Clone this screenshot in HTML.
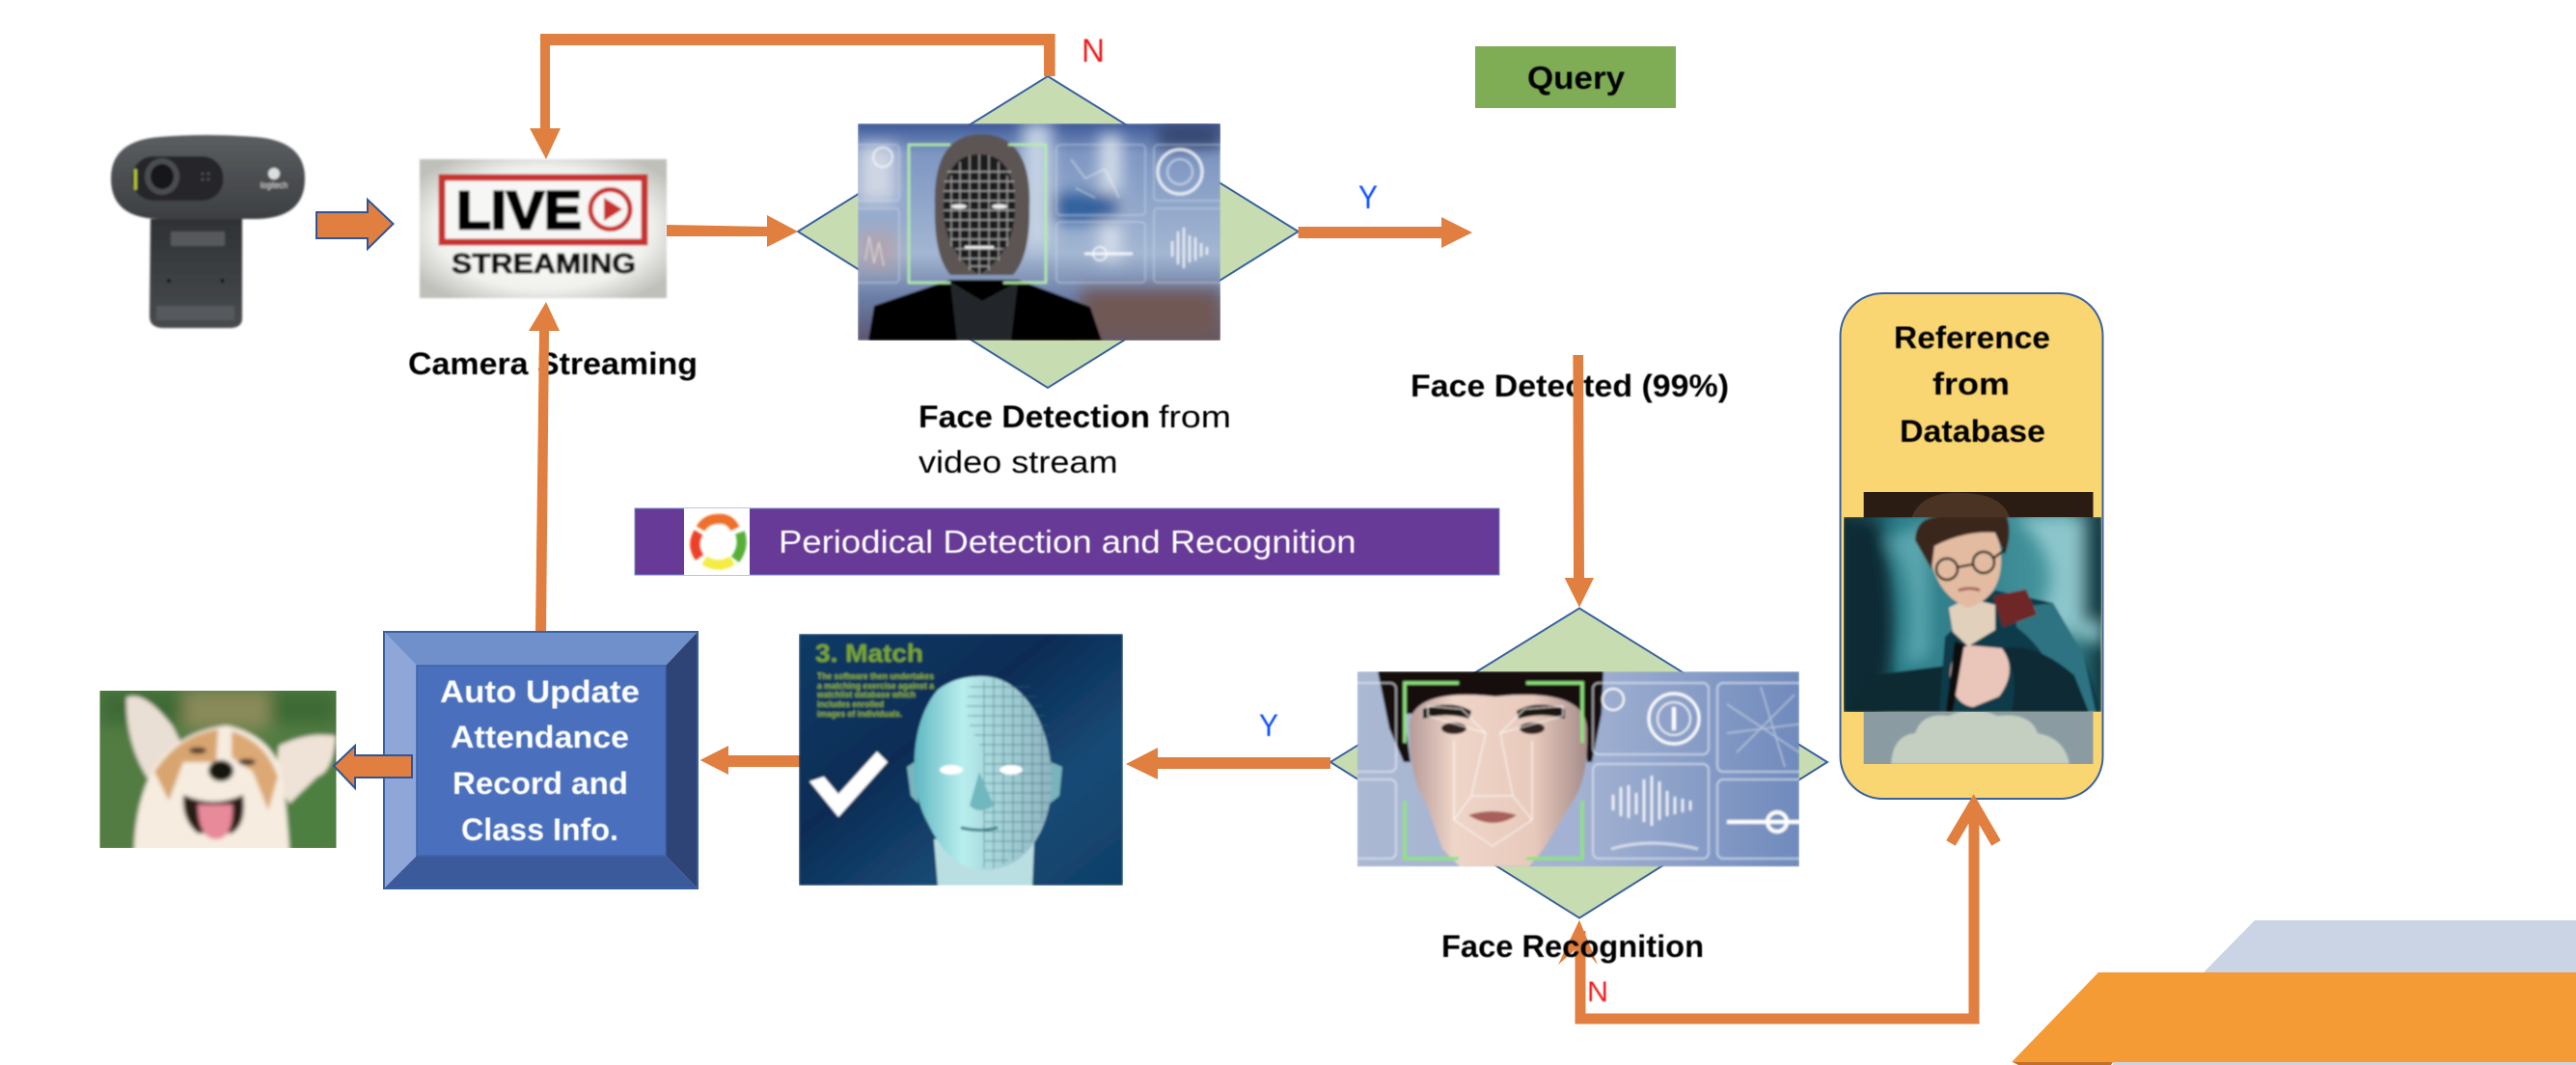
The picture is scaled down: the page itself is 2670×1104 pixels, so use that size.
<!DOCTYPE html>
<html><head><meta charset="utf-8"><title>Face recognition attendance flow</title>
<style>html,body{margin:0;padding:0;background:#fff;width:2670px;height:1104px;overflow:hidden}svg{display:block}
text{font-family:"Liberation Sans",sans-serif}</style></head><body>
<svg xmlns="http://www.w3.org/2000/svg" width="2670" height="1104" viewBox="0 0 2670 1104">
<defs>
<filter id="b1" x="-20%" y="-20%" width="140%" height="140%"><feGaussianBlur stdDeviation="1"/></filter>
<filter id="b2" x="-20%" y="-20%" width="140%" height="140%"><feGaussianBlur stdDeviation="2.2"/></filter>
<filter id="b3" x="-20%" y="-20%" width="140%" height="140%"><feGaussianBlur stdDeviation="3"/></filter>
<filter id="b8" x="-30%" y="-30%" width="160%" height="160%"><feGaussianBlur stdDeviation="8"/></filter>
<filter id="t" x="-5%" y="-20%" width="110%" height="140%"><feGaussianBlur stdDeviation="0.55"/></filter>
<radialGradient id="liveBg" cx="50%" cy="50%" r="62%"><stop offset="0" stop-color="#fff"/><stop offset=".7" stop-color="#f1f1ee"/><stop offset="1" stop-color="#bfc0ba"/></radialGradient>
<linearGradient id="camB" x1="0" y1="0" x2="0" y2="1"><stop offset="0" stop-color="#5b5e61"/><stop offset=".5" stop-color="#4b4e51"/><stop offset="1" stop-color="#3c3f42"/></linearGradient>
<linearGradient id="camS" x1="0" y1="0" x2="0" y2="1"><stop offset="0" stop-color="#2f3235"/><stop offset="1" stop-color="#484b4e"/></linearGradient>
<linearGradient id="p1" x1="0" y1="0" x2="0" y2="1"><stop offset="0" stop-color="#3f5a98"/><stop offset=".14" stop-color="#7e97c2"/><stop offset=".6" stop-color="#a3b6d2"/><stop offset=".8" stop-color="#6c7ea6"/><stop offset="1" stop-color="#5b5670"/></linearGradient>
<linearGradient id="p2" x1="0" y1="0" x2="1" y2="0"><stop offset="0" stop-color="#aab8d2"/><stop offset=".5" stop-color="#a3b2d2"/><stop offset="1" stop-color="#6f8abc"/></linearGradient>
<linearGradient id="skin" x1="0" y1="0" x2="1" y2="0"><stop offset="0" stop-color="#b59a98"/><stop offset=".25" stop-color="#eed5c8"/><stop offset=".7" stop-color="#e8cabc"/><stop offset="1" stop-color="#a58c8a"/></linearGradient>
<linearGradient id="m1" x1="0" y1="0" x2="1" y2="1"><stop offset="0" stop-color="#0f3b66"/><stop offset=".4" stop-color="#0b2c55"/><stop offset=".7" stop-color="#174a75"/><stop offset="1" stop-color="#0f3f68"/></linearGradient>
<linearGradient id="mh" x1="0" y1="0" x2="1" y2="0"><stop offset="0" stop-color="#5fb8c2"/><stop offset=".35" stop-color="#b8eeee"/><stop offset=".55" stop-color="#a8d8dc"/><stop offset="1" stop-color="#8fb4c0"/></linearGradient>
<linearGradient id="h1" x1="0" y1="0" x2="1" y2="0"><stop offset="0" stop-color="#0c3038"/><stop offset=".22" stop-color="#2a7d88"/><stop offset=".55" stop-color="#35838f"/><stop offset=".85" stop-color="#4b9ba2"/><stop offset="1" stop-color="#0e3a42"/></linearGradient>
<clipPath id="cp1"><rect x="889" y="128" width="376" height="225"/></clipPath>
<clipPath id="cp2"><rect x="1406.6" y="696" width="458.4" height="202.5"/></clipPath>
<clipPath id="cp3"><rect x="828" y="657" width="336" height="261"/></clipPath>
<clipPath id="cp4"><rect x="103.5" y="716" width="245" height="163"/></clipPath>
<clipPath id="cp5"><rect x="1911" y="536" width="267" height="202"/></clipPath>
<clipPath id="cp6"><rect x="1931.6" y="510" width="238" height="282"/></clipPath>
</defs>
<rect width="2670" height="1104" fill="#fff"/>

<!-- bottom-right decoration -->
<polygon points="2337,954 2670,954 2670,1104 2190,1104 2190,1101 2284,1008" fill="#cbd4e4"/>
<polygon points="2175,1008 2670,1008 2670,1101 2085,1101" fill="#f59b35"/>
<polygon points="2086,1101 2190,1101 2188,1104 2092,1104" fill="#c0702a"/>

<!-- diamonds -->
<polygon points="1086,79 1345.6,240 1086,402 827,240" fill="#c8dcb2" stroke="#3a62a0" stroke-width="2"/>
<polygon points="1637,630.5 1894,790 1637,951.6 1379,790" fill="#c8dcb2" stroke="#3a62a0" stroke-width="2"/>

<!-- webcam -->
<g filter="url(#b1)">
<path d="M156 227H251V330Q251 340 238 340H170Q155 340 155 328Z" fill="url(#camS)"/>
<rect x="177" y="240" width="56" height="15" rx="2" fill="#56595c"/>
<rect x="162" y="317" width="81" height="15" fill="#55585b"/>
<circle cx="175" cy="291" r="2" fill="#111"/><circle cx="230.5" cy="291" r="2" fill="#111"/>
<path d="M115 185Q115 146 165 142Q215 138 265 142Q316 146 316 185Q316 226 266 227H165Q115 226 115 185Z" fill="url(#camB)"/>
<rect x="137" y="162" width="94.5" height="46" rx="22" fill="#26282a"/>
<ellipse cx="168" cy="183" rx="18" ry="19" fill="#4a4d50"/><ellipse cx="168" cy="183" rx="12" ry="13" fill="#15171a"/>
<rect x="139" y="175" width="3" height="22" rx="1.5" fill="#b7c63e"/>
<circle cx="284" cy="180" r="6" fill="#ddd"/>
<text x="270" y="195" font-size="9" fill="#ddd" textLength="28" lengthAdjust="spacingAndGlyphs">logitech</text>
<g fill="#55585b"><circle cx="210" cy="180" r="1.3"/><circle cx="216" cy="180" r="1.3"/><circle cx="210" cy="186" r="1.3"/><circle cx="216" cy="186" r="1.3"/></g>
</g>

<!-- blue-outline arrow -->
<polygon points="328,220 381,220 381,207 407.5,232 381,258 381,247 328,247" fill="#e07f3f" stroke="#2f5597" stroke-width="2"/>

<!-- live image -->
<g filter="url(#b1)">
<rect x="435" y="165" width="256" height="144" fill="url(#liveBg)"/>
<rect x="458" y="184" width="210" height="67" fill="#f6f6f4" stroke="#c8302e" stroke-width="7"/>
<text x="473" y="237" font-size="56" font-weight="700" fill="#000" stroke="#000" stroke-width="2.5" textLength="130" lengthAdjust="spacingAndGlyphs">LIVE</text>
<circle cx="632.5" cy="217" r="20.5" fill="#f6f6f4" stroke="#c8302e" stroke-width="5"/>
<polygon points="626,205 645,217 626,229" fill="#c8302e"/>
<text x="468" y="283" font-size="29" font-weight="700" fill="#111" stroke="#111" stroke-width="1" textLength="191" lengthAdjust="spacingAndGlyphs">STREAMING</text>
</g>

<!-- query -->
<rect x="1529" y="48" width="208" height="64" fill="#7fad55"/>
<text x="1583" y="92" font-size="33" font-weight="700" fill="#000" textLength="101" lengthAdjust="spacingAndGlyphs" filter="url(#t)">Query</text>

<!-- photo 1: face detection -->
<g clip-path="url(#cp1)"><g filter="url(#b1)">
<rect x="889" y="128" width="376" height="225" fill="url(#p1)"/>
<g filter="url(#b8)">
<rect x="1060" y="128" width="30" height="130" fill="#c5d2e4"/>
<rect x="1140" y="140" width="22" height="130" fill="#d5deea"/>
<rect x="1090" y="200" width="70" height="30" fill="#2f5f9c"/>
<rect x="889" y="150" width="40" height="60" fill="#cfd6e4"/>
<rect x="889" y="240" width="40" height="40" fill="#b99" opacity=".6"/>
<rect x="1120" y="300" width="145" height="53" fill="#6f5855"/>
<rect x="1200" y="128" width="65" height="25" fill="#34466f"/>
</g>
<g fill="none" stroke="#dde6f2" stroke-width="1.2" opacity=".5">
<rect x="1095" y="150" width="92" height="73" rx="4"/><rect x="1196" y="150" width="75" height="58" rx="4"/>
<rect x="1095" y="230" width="92" height="63" rx="4"/><rect x="1196" y="216" width="75" height="77" rx="4"/>
<rect x="880" y="150" width="52" height="58" rx="4"/><rect x="880" y="216" width="52" height="77" rx="4"/>
</g>
<g fill="none" stroke="#fff">
<circle cx="1223" cy="178" r="23" stroke-width="3" opacity=".8"/><circle cx="1223" cy="178" r="13" stroke-width="2" opacity=".5"/>
<circle cx="915" cy="163" r="10" stroke-width="2" opacity=".7"/>
<circle cx="1140" cy="263" r="7" stroke-width="2" opacity=".7"/>
<path d="M1124 263H1174" stroke-width="3" opacity=".8"/>
<path d="M1215 250v16M1221 240v34M1227 236v42M1233 244v28M1239 246v24M1245 252v14M1251 256v8" stroke-width="2" opacity=".85"/>
<path d="M1110 165l15 20l20-10l15 30M1115 195l20 10" stroke-width="2" opacity=".35"/>
<path d="M897 270l4-25l5 28l5-22l5 25" stroke-width="1.5" opacity=".45"/>
</g>
<polygon points="900,353 906,317 985,290 1055,290 1130,318 1142,353" fill="#050505"/>
<polygon points="985,292 1018,312 1055,292 1048,353 992,353" fill="#24272b"/>
<path d="M969 215Q966 139 1018 139Q1070 141 1067 215Q1068 265 1050 285H985Q968 265 969 215Z" fill="#5b5552"/>
<path d="M978 215Q978 160 1015 160Q1052 160 1052 215Q1052 260 1015 285Q978 260 978 215Z" fill="#1a1a1f"/>
<g fill="none" stroke="#f2f2f2" stroke-width=".9" opacity=".72">
<path d="M1015 160V285M1005 161V280M995 168V270M986 182V255M1025 161V280M1035 168V270M1044 182V255"/>
<path d="M982 178H1048M979 188H1051M978 198H1052M978 208H1052M978 218H1052M979 228H1051M982 238H1048M985 248H1045M990 258H1040M997 268H1033M1005 276H1025"/>
</g>
<g fill="#eee"><ellipse cx="994" cy="214" rx="8" ry="2.4"/><ellipse cx="1036" cy="214" rx="8" ry="2.4"/><rect x="1000" y="255" width="30" height="2.5"/></g>
<path d="M985 150H942V293H985M1045 150H1084V293H1040" fill="none" stroke="#b5eea8" stroke-width="2.5"/>
</g></g>

<!-- photo 2: face recognition -->
<g clip-path="url(#cp2)"><g filter="url(#b1)">
<rect x="1406.6" y="696" width="458.4" height="202.5" fill="url(#p2)"/>
<path d="M1428 696H1662L1660 740L1650 790H1645L1640 740H1455L1462 790H1455L1440 755Z" fill="#15110f"/>
<path d="M1461 760Q1455 712 1550 722Q1648 712 1645 760Q1646 810 1629 832L1600 880L1585 898H1513L1495 880L1478 832Q1462 810 1461 760Z" fill="url(#skin)"/>
<path d="M1475 735q30-10 50 2l-2 8q-25-7-48 0zM1622 735q-30-10-50 2l2 8q25-7 48 0z" fill="#1e1510"/>
<ellipse cx="1507" cy="755" rx="13" ry="6" fill="#30241f"/><ellipse cx="1588" cy="755" rx="13" ry="6" fill="#30241f"/>
<path d="M1522 845q24-8 50 0q-24 16-50 0z" fill="#a8605a"/>
<g fill="none" stroke="#fff" stroke-width="1" opacity=".85">
<path d="M1480 732L1515 735L1540 760L1480 742ZM1620 732L1580 735L1555 760L1620 742ZM1507 768L1507 850M1588 768L1588 850M1540 760L1525 825L1507 850L1547 877L1588 850L1568 825L1555 760M1525 825H1568"/>
</g>
<path d="M1512 708H1456V770M1582 708H1640V770M1456 830V890H1512M1640 830V890H1582" fill="none" stroke="#8fe27f" stroke-width="3.5"/>
<g fill="none" stroke="#eef3fb" stroke-width="1.5" opacity=".75">
<rect x="1651" y="708" width="120" height="74" rx="6"/><rect x="1780" y="708" width="95" height="92" rx="6"/>
<rect x="1651" y="792" width="120" height="98" rx="6"/><rect x="1780" y="808" width="95" height="82" rx="6"/>
<rect x="1395" y="708" width="52" height="92" rx="6"/><rect x="1395" y="808" width="52" height="82" rx="6"/>
</g>
<g fill="none" stroke="#fff">
<circle cx="1735" cy="745" r="26" stroke-width="3"/><circle cx="1735" cy="745" r="17" stroke-width="1.5"/><path d="M1735 733v24" stroke-width="4"/>
<circle cx="1672" cy="725" r="11" stroke-width="2"/>
<path d="M1672 840v-16M1680 846v-30M1688 848v-34M1696 844v-22M1704 852v-44M1712 856v-52M1720 850v-40M1728 846v-26M1736 844v-18M1744 842v-14M1752 840v-10" stroke-width="2.5" opacity=".9"/>
<path d="M1670 880Q1710 868 1760 880" stroke-width="3" opacity=".6"/>
<path d="M1790 852H1865" stroke-width="4"/><circle cx="1842" cy="852" r="10" stroke-width="4"/>
<path d="M1790 730L1865 780M1800 780L1860 720M1790 760L1870 750M1825 712L1850 795" stroke-width="1.5" opacity=".45"/>
</g>
</g></g>

<!-- rounded database box -->
<rect x="1907.5" y="304" width="272" height="524" rx="44" fill="#f9d671" stroke="#3a62a0" stroke-width="2"/>
<g clip-path="url(#cp6)">
<rect x="1931.6" y="510" width="238" height="30" fill="#2a1b13"/>
<rect x="1931.6" y="738" width="238" height="54" fill="#8a9ca2"/>
<path d="M1960 792Q1962 762 1985 760Q1992 738 2020 742Q2045 730 2070 742Q2105 738 2112 760Q2140 765 2145 792Z" fill="#c4cfc2" filter="url(#b1)"/>
<path d="M1980 540Q1990 508 2035 511Q2078 512 2084 540Z" fill="#4a3322"/>
</g>
<g clip-path="url(#cp5)"><g filter="url(#b1)">
<rect x="1911" y="536" width="267" height="202" fill="url(#h1)"/>
<g filter="url(#b8)">
<path d="M1945 540Q1975 640 1950 738H1911V536Z" fill="#0a2c34"/>
<path d="M2090 536Q2150 590 2110 640L2178 670V536Z" fill="#8cc6cc"/>
<rect x="2158" y="536" width="20" height="110" fill="#123f48"/>
<path d="M1955 560Q1990 600 1975 690L2000 680L2000 540Z" fill="#5aa5ad"/>
</g>
<path d="M1911 738L1940 700L2018 690L2021 738Z" fill="#0a2b32"/>
<path d="M2010 738L2016 660L2068 612L2128 625L2160 680L2178 738Z" fill="#0f3a48"/>
<path d="M2090 630L2128 625L2160 680L2172 738L2140 738Q2130 680 2090 650Z" fill="#2f7382"/>
<path d="M2024 655L2020 630L2040 620L2068 627L2068 653L2040 670Z" fill="#e0d0bc"/>
<path d="M2066 618L2100 611L2111 637L2076 650Z" fill="#6e2628"/>
<path d="M2002 585Q1998 540 2040 536Q2076 540 2074 585Q2072 620 2040 630Q2012 620 2002 585Z" fill="#e2bba0"/>
<path d="M1985 560Q1986 536 2010 536H2080Q2086 552 2078 575L2068 552Q2035 550 2005 566L2002 590Z" fill="#3a271a"/>
<g fill="none" stroke="#111" stroke-width="2.4"><ellipse cx="2018" cy="590" rx="11" ry="11"/><ellipse cx="2056" cy="583" rx="11" ry="11"/><path d="M2029 588L2045 585M2067 578L2078 570"/></g>
<path d="M2030 612q12-4 22 0" stroke="#a5625a" stroke-width="3" fill="none"/>
<path d="M2021 700Q2022 672 2042 669L2075 672Q2092 695 2072 722L2045 733Q2024 730 2021 700Z" fill="#eac5ba"/>
<path d="M2026 665L2017 738L2024 738L2036 668Z" fill="#0c0c0c"/>
<path d="M2075 672Q2110 665 2150 700L2165 738H2085Q2094 695 2075 672Z" fill="#0a2a36"/>
</g></g>

<!-- purple bar -->
<rect x="658" y="527" width="896" height="69" fill="#673a97" stroke="#6f8ec4" stroke-width="1"/>
<rect x="709" y="527" width="68" height="69" fill="#fff"/>
<g fill="none" stroke-width="10" filter="url(#b1)">
<path d="M726 548Q733 536 750 538Q758 540 762 548" stroke="#ee6f2c"/>
<path d="M767 552Q772 567 762 580" stroke="#57b037"/>
<path d="M759 581Q745 590 730 581" stroke="#f4ec42"/>
<path d="M725 578Q716 565 724 552" stroke="#ee4026"/>
</g>
<text x="807" y="573" font-size="33" fill="#fff" textLength="598.6" lengthAdjust="spacingAndGlyphs" filter="url(#t)">Periodical Detection and Recognition</text>

<!-- text under connectors -->
<g fill="#000" font-weight="700" font-size="32" filter="url(#t)">
<text x="423" y="388" textLength="300" lengthAdjust="spacingAndGlyphs">Camera Streaming</text>
<text x="952" y="443" textLength="240" lengthAdjust="spacingAndGlyphs">Face Detection</text>
<text x="1462" y="411" textLength="330" lengthAdjust="spacingAndGlyphs">Face Detected (99%)</text>
</g>
<g fill="#000" font-size="32" filter="url(#t)">
<text x="1201" y="443" textLength="75" lengthAdjust="spacingAndGlyphs">from</text>
<text x="952" y="490" textLength="206.5" lengthAdjust="spacingAndGlyphs">video stream</text>
</g>
<g fill="#000" font-weight="700" font-size="32" filter="url(#t)">
<text x="1963" y="361" textLength="162" lengthAdjust="spacingAndGlyphs">Reference</text>
<text x="2003" y="409" textLength="80" lengthAdjust="spacingAndGlyphs">from</text>
<text x="1969" y="458" textLength="151" lengthAdjust="spacingAndGlyphs">Database</text>
</g>
<g fill="#f21d1d" font-size="34" filter="url(#t)">
<text x="1121" y="64" textLength="24" lengthAdjust="spacingAndGlyphs">N</text>
<text x="1645" y="1038" font-size="30" textLength="22" lengthAdjust="spacingAndGlyphs">N</text>
</g>
<text x="1408" y="216" font-size="34" fill="#0b4fff" textLength="20" lengthAdjust="spacingAndGlyphs" filter="url(#t)">Y</text>
<text x="1305" y="763" font-size="32" fill="#0b4fff" textLength="20" lengthAdjust="spacingAndGlyphs" filter="url(#t)">Y</text>

<!-- connectors -->
<g fill="#e07f3f">
<path d="M1093.6 79H1082V47H570V133H581L566 165L549 133H560V35H1093.6Z"/>
<polygon points="691,233 795,235 795,223 827,240 795,256 795,245 691,245"/>
<polygon points="1345.6,235 1494,235 1494,225 1526,241 1494,257 1494,247 1345.6,247"/>
<polygon points="1630.4,368 1641,368 1642,599 1652,599 1637,629.5 1621.6,599 1631,599"/>
<polygon points="555,655 566,655 569,343 580,343 566,313 548,343 559,343"/>
<polygon points="830,783 755,783 755,773 725.6,788 755,803 755,795 830,795"/>
<polygon points="1379,785 1200,785 1200,775 1167,792 1200,808 1200,797 1379,797"/>
</g>
<path d="M1638 965V1056H2046V838" fill="none" stroke="#e07f3f" stroke-width="11"/>
<path d="M2022 874L2045.7 834L2069 874" fill="none" stroke="#e07f3f" stroke-width="11" stroke-linejoin="miter"/>
<polygon points="1637,953.7 1656,1000 1643,985 1632,985 1615,1000" fill="#e07f3f"/>
<text x="1494" y="992" font-size="32" font-weight="700" fill="#000" textLength="272" lengthAdjust="spacingAndGlyphs" filter="url(#t)">Face Recognition</text>

<!-- bevel box -->
<polygon points="398,655 723,655 690,690 432,690" fill="#7090cc"/>
<polygon points="398,655 432,690 432,887 398,921" fill="#8fa6d9"/>
<polygon points="723,655 723,921 690,887 690,690" fill="#2f4476"/>
<polygon points="398,921 432,887 690,887 723,921" fill="#3a5a9c"/>
<rect x="432" y="690" width="258" height="197" fill="#4a70bd" stroke="#3f62a8" stroke-width="1.5"/>
<rect x="398" y="655" width="325" height="266" fill="none" stroke="#3a62a0" stroke-width="2"/>
<g fill="#fff" font-size="32" font-weight="700" filter="url(#t)">
<text x="456" y="728" textLength="207" lengthAdjust="spacingAndGlyphs">Auto Update</text>
<text x="467" y="775" textLength="185" lengthAdjust="spacingAndGlyphs">Attendance</text>
<text x="469" y="823" textLength="182" lengthAdjust="spacingAndGlyphs">Record and</text>
<text x="478" y="871" textLength="163" lengthAdjust="spacingAndGlyphs">Class Info.</text>
</g>

<!-- match image -->
<g clip-path="url(#cp3)"><g filter="url(#b1)">
<rect x="828" y="657" width="336" height="261" fill="url(#m1)"/>
<path d="M1089 790l12 5l-3 30l-10 8zM948 790l-8 5l4 30l8 8z" fill="#78b4bc"/>
<path d="M968 870L1072 870L1070 918H972Z" fill="#b9dfe2"/>
<path d="M1018 701C1060 701 1090 750 1090 810C1090 860 1062 902 1022 902C990 902 975 880 960 850C942 815 942 750 972 715C985 705 1000 701 1018 701Z" fill="url(#mh)"/>
<g fill="none" stroke="#33626f" stroke-width="1" opacity=".6">
<path d="M1020 706V900M1030 703V900M1040 706V896M1050 712V892M1060 720V884M1070 735V872M1080 755V850"/>
<path d="M1005 712H1068M1003 722H1074M1002 732H1080M1003 742H1083M1005 752H1086M1010 762H1088M1015 772H1089M1020 782H1090M1020 792H1090M1020 802H1090M1020 812H1090M1020 822H1089M1020 832H1088M1020 842H1086M1020 852H1082M1020 862H1076M1020 872H1070M1020 882H1060M1020 892H1045"/>
</g>
<ellipse cx="986" cy="798" rx="12" ry="5" fill="#fff"/><ellipse cx="1048" cy="798" rx="12" ry="5" fill="#fff"/>
<path d="M1015 800L1005 835Q1015 845 1030 835Z" fill="#6fb8be"/>
<path d="M996 858q20 5 38 0" stroke="#3e8088" stroke-width="3" fill="none"/>
<polygon points="839,810 869,847 920,790 909,779 869,823 854,805" fill="#fff"/>
<text x="845" y="686" font-size="26" font-weight="700" fill="#7aa82a" textLength="112" lengthAdjust="spacingAndGlyphs">3. Match</text>
<g fill="#8eb530" font-size="9.5" font-weight="700">
<text x="847" y="704" textLength="121" lengthAdjust="spacingAndGlyphs">The software then undertakes</text>
<text x="847" y="714" textLength="121" lengthAdjust="spacingAndGlyphs">a matching exercise against a</text>
<text x="847" y="723" textLength="102" lengthAdjust="spacingAndGlyphs">watchlist database which</text>
<text x="847" y="733" textLength="69" lengthAdjust="spacingAndGlyphs">includes enrolled</text>
<text x="847" y="743" textLength="88" lengthAdjust="spacingAndGlyphs">images of individuals.</text>
</g>
</g></g>

<!-- dog image -->
<g clip-path="url(#cp4)"><g filter="url(#b2)">
<rect x="100" y="712" width="252" height="170" fill="#527c42"/>
<g filter="url(#b8)"><rect x="103" y="716" width="245" height="35" fill="#3e6a35"/><rect x="190" y="716" width="90" height="40" fill="#8a8a5a"/><rect x="290" y="790" width="60" height="90" fill="#4e8040"/></g>
<path d="M131 723Q150 715 179 753L190 775L164 800L153 807Q130 770 131 723Z" fill="#eadfd4"/>
<path d="M289 773Q320 758 348 763Q345 800 329 805L300 833L285 810Z" fill="#efe2d6"/>
<path d="M139 882Q140 830 160 795Q185 758 235 752Q280 762 292 800Q298 845 300 882Z" fill="#f6ecdf"/>
<path d="M160 800Q185 762 226 756L224 790L210 790L190 790L175 830Z" fill="#d8a56f"/>
<path d="M240 758Q275 768 288 805L278 840L262 800L240 785Z" fill="#dca974"/>
<ellipse cx="229" cy="799" rx="13" ry="11" fill="#191310"/>
<path d="M190 824Q222 838 252 824Q256 855 240 864H205Q188 850 190 824Z" fill="#2a1a18"/>
<path d="M205 834H241Q242 870 224 870Q206 870 205 834Z" fill="#e88a9a"/>
<ellipse cx="205" cy="778" rx="9" ry="3.4" fill="#4a3526"/><ellipse cx="256" cy="790" rx="9" ry="3.4" fill="#4a3526"/>
</g></g>

<!-- left outlined arrow -->
<polygon points="427,783 368,783 368,773 346,794 368,817 368,806 427,806" fill="#e07f3f" stroke="#2f5597" stroke-width="2"/>
</svg>
</body></html>
